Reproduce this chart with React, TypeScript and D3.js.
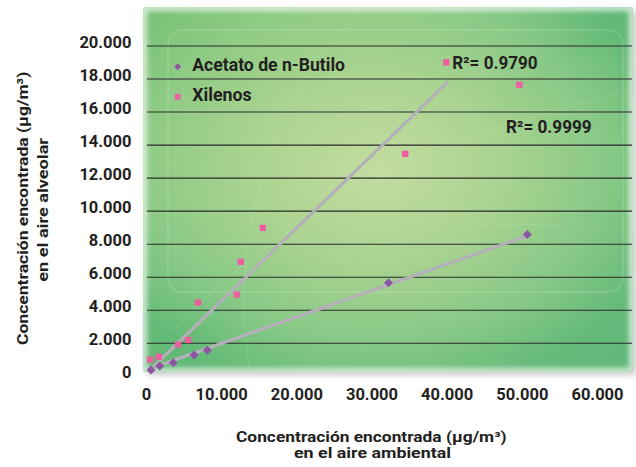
import React from "react";
import * as d3 from "d3";

const W = 636;
const H = 467;

const xTicks = [0, 10000, 20000, 30000, 40000, 50000, 60000];
const yTicks = [0, 2000, 4000, 6000, 8000, 10000, 12000, 14000, 16000, 18000, 20000];
const gridValues = [2000, 4000, 6000, 8000, 10000, 12000, 14000, 16000, 18000, 20000];

const acetatoX = [600, 1760, 3570, 6330, 8100, 32200, 50670];
const acetatoY = [380, 620, 820, 1290, 1580, 5670, 8580];

const xilenosX = [470, 1620, 4190, 5530, 6860, 12010, 12540, 15470, 34420, 39880, 49600];
const xilenosY = [1010, 1190, 1920, 2200, 4460, 4950, 6930, 8990, 13470, 19010, 17650];

const trendAcetatoX = [560, 50620];
const trendAcetatoY = [485, 8500];
const trendXilenosX = [690, 40150];
const trendXilenosY = [485, 17860];

const seriesNames = ["Acetato de n-Butilo", "Xilenos"];
const r2Labels = ["R²= 0.9790", "R²= 0.9999"];
const xTitle = ["Concentración encontrada (µg/m³)", "en el aire ambiental"];
const yTitle = ["Concentración encontrada (µg/m³)", "en el aire alveolar"];

const PURPLE = "#8b57a3";
const PINK = "#ef5ea0";
const TREND = "#b3b0b8";
const INK = "#231f20";
const FONT = "Roboto, 'DejaVu Sans', sans-serif";

const locale = d3.formatLocale({ decimal: ",", thousands: ".", grouping: [3], currency: ["", ""] });
const fmt = locale.format(",d");

export default function App() {
  const x = d3.scaleLinear().domain([0, 60000]).range([146.5, 597.5]);
  const y = d3.scaleLinear().domain([0, 20000]).range([376.3, 46]);

  const line = d3
    .line<[number, number]>()
    .x((d) => x(d[0]))
    .y((d) => y(d[1]));

  const trendA: [number, number][] = trendAcetatoX.map((v, i) => [v, trendAcetatoY[i]]);
  const trendX: [number, number][] = trendXilenosX.map((v, i) => [v, trendXilenosY[i]]);

  const diamond = d3.symbol().type(d3.symbolDiamond2 || d3.symbolDiamond).size(52)();
  const square = d3.symbol().type(d3.symbolSquare).size(40)();

  const panel = { x: 143, y: 7, w: 490, h: 365 };

  return (
    <svg
      width={W}
      height={H}
      viewBox={`0 0 ${W} ${H}`}
      style={{ position: "absolute", left: 0, top: 0, background: "#ffffff" }}
    >
      <defs>
        <radialGradient id="panelGrad" cx="48%" cy="45%" r="62%">
          <stop offset="0%" stopColor="#c2dda0" />
          <stop offset="40%" stopColor="#aad391" />
          <stop offset="75%" stopColor="#86c885" />
          <stop offset="100%" stopColor="#62b976" />
        </radialGradient>
        <linearGradient id="tint" x1="0" y1="0" x2="1" y2="1">
          <stop offset="0%" stopColor="#a9d47e" stopOpacity="0.35" />
          <stop offset="50%" stopColor="#c6dea0" stopOpacity="0" />
          <stop offset="100%" stopColor="#55b47d" stopOpacity="0.3" />
        </linearGradient>
        <filter id="shadow" x="-10%" y="-10%" width="120%" height="120%">
          <feGaussianBlur stdDeviation="3" />
        </filter>
        <filter id="soft" x="-10%" y="-10%" width="120%" height="120%">
          <feGaussianBlur stdDeviation="2.5" />
        </filter>
        <clipPath id="panelClip">
          <rect x={panel.x} y={panel.y} width={panel.w} height={panel.h} rx={4} />
        </clipPath>
      </defs>

      {/* drop shadow */}
      <rect
        x={panel.x + 3}
        y={panel.y + 3}
        width={panel.w}
        height={panel.h}
        rx={4}
        fill="#c9c9c9"
        filter="url(#shadow)"
      />
      {/* panel */}
      <g clipPath="url(#panelClip)">
        <rect x={panel.x} y={panel.y} width={panel.w} height={panel.h} fill="url(#panelGrad)" />
        <rect x={panel.x} y={panel.y} width={panel.w} height={panel.h} fill="url(#tint)" />
        <rect
          x={panel.x + 1}
          y={panel.y + 1}
          width={panel.w - 2}
          height={panel.h - 2}
          fill="none"
          stroke="#ffffff"
          strokeOpacity={0.7}
          strokeWidth={6}
          filter="url(#soft)"
        />
        {/* faint decorative contours */}
        <rect x={168} y={30} width={455} height={262} rx={14} fill="none" stroke="#ffffff" strokeOpacity={0.3} strokeWidth={0.8} />
        <path
          d="M 250 372 C 230 250, 260 120, 360 10"
          fill="none"
          stroke="#ffffff"
          strokeOpacity={0.3}
          strokeWidth={0.8}
          strokeDasharray="2 2"
        />
        <path
          d="M 175 330 C 260 230, 420 150, 520 120 C 600 100, 630 90, 640 80"
          fill="none"
          stroke="#ffffff"
          strokeOpacity={0.3}
          strokeWidth={0.8}
          strokeDasharray="2 2"
        />
        <path
          d="M 260 335 C 300 250, 420 220, 560 225"
          fill="none"
          stroke="#ffffff"
          strokeOpacity={0.25}
          strokeWidth={0.8}
          strokeDasharray="2 2"
        />
      </g>

      {/* gridlines */}
      {gridValues.map((v) => (
        <line key={v} x1={147} x2={632} y1={y(v)} y2={y(v)} stroke="#2a2a2a" strokeWidth={1.1} />
      ))}

      {/* trend lines */}
      <path d={line(trendX) || ""} fill="none" stroke={TREND} strokeWidth={3.2} />
      <path d={line(trendA) || ""} fill="none" stroke={TREND} strokeWidth={3.2} />

      {/* points */}
      {acetatoX.map((v, i) => (
        <path key={"a" + i} d={diamond || ""} transform={`translate(${x(v)},${y(acetatoY[i])})`} fill={PURPLE} />
      ))}
      {xilenosX.map((v, i) => (
        <path key={"x" + i} d={square || ""} transform={`translate(${x(v)},${y(xilenosY[i])})`} fill={PINK} />
      ))}

      {/* y tick labels */}
      {yTicks.map((v) => (
        <text
          key={v}
          x={131.5}
          y={y(v) + 1.5}
          textAnchor="end"
          fontFamily={FONT}
          fontWeight={700}
          fontSize={16.5}
          fill={INK}
        >
          {fmt(v)}
        </text>
      ))}

      {/* x tick labels */}
      {xTicks.map((v) => (
        <text
          key={v}
          x={x(v)}
          y={400}
          textAnchor="middle"
          fontFamily={FONT}
          fontWeight={700}
          fontSize={16.5}
          fill={INK}
        >
          {fmt(v)}
        </text>
      ))}

      {/* legend */}
      <path d={d3.symbol().type(d3.symbolDiamond2 || d3.symbolDiamond).size(30)() || ""} transform="translate(177.7,66.7)" fill={PURPLE} />
      <text x={192.3} y={71} fontFamily={FONT} fontWeight={700} fontSize={17.5} fill={INK} textLength={152.7} lengthAdjust="spacingAndGlyphs">
        {seriesNames[0]}
      </text>
      <path d={d3.symbol().type(d3.symbolSquare).size(34)() || ""} transform="translate(177.7,96.7)" fill={PINK} />
      <text x={192.3} y={100.7} fontFamily={FONT} fontWeight={700} fontSize={17.5} fill={INK} textLength={59.4} lengthAdjust="spacingAndGlyphs">
        {seriesNames[1]}
      </text>

      {/* R² labels */}
      <text x={452.3} y={69.3} fontFamily={FONT} fontWeight={700} fontSize={17.5} fill={INK} textLength={85.3} lengthAdjust="spacingAndGlyphs">
        {r2Labels[0]}
      </text>
      <text x={506} y={133.3} fontFamily={FONT} fontWeight={700} fontSize={17.5} fill={INK} textLength={85.7} lengthAdjust="spacingAndGlyphs">
        {r2Labels[1]}
      </text>

      {/* x title */}
      <text x={236} y={441.5} fontFamily={FONT} fontWeight={700} fontSize={14.5} fill={INK} textLength={270.7} lengthAdjust="spacingAndGlyphs">
        {xTitle[0]}
      </text>
      <text x={294} y={458} fontFamily={FONT} fontWeight={700} fontSize={14.5} fill={INK} textLength={157} lengthAdjust="spacingAndGlyphs">
        {xTitle[1]}
      </text>

      {/* y title */}
      <text
        transform="translate(27.5,345) rotate(-90)"
        fontFamily={FONT}
        fontWeight={700}
        fontSize={15}
        fill={INK}
        textLength={273.3}
        lengthAdjust="spacingAndGlyphs"
      >
        {yTitle[0]}
      </text>
      <text
        transform="translate(47.5,281.7) rotate(-90)"
        fontFamily={FONT}
        fontWeight={700}
        fontSize={15}
        fill={INK}
        textLength={143.7}
        lengthAdjust="spacingAndGlyphs"
      >
        {yTitle[1]}
      </text>
    </svg>
  );
}
